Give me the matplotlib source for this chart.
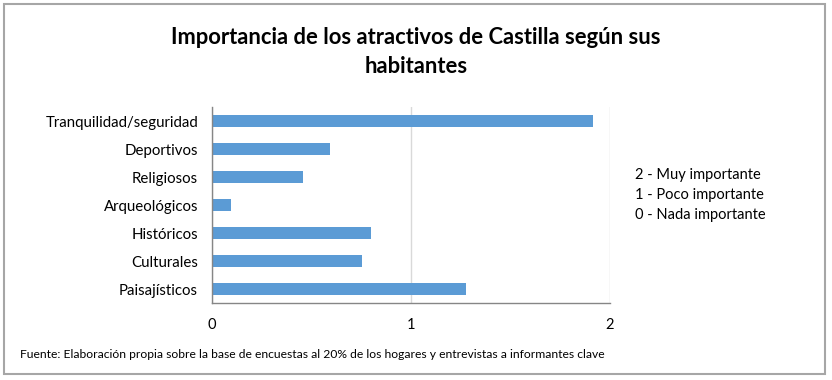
import matplotlib
matplotlib.use("Agg")
import matplotlib.pyplot as plt
from matplotlib.patches import Rectangle

categories = [
    "Tranquilidad/seguridad",
    "Deportivos",
    "Religiosos",
    "Arqueológicos",
    "Históricos",
    "Culturales",
    "Paisajísticos",
]
values = [1.915, 0.593, 0.456, 0.094, 0.797, 0.752, 1.275]
x_ticks = [0, 1, 2]
legend_lines = ["2 - Muy importante", "1 - Poco importante", "0 - Nada importante"]
title = "Importancia de los atractivos de Castilla según sus\nhabitantes"
source = ("Fuente: Elaboración propia sobre la base de encuestas al 20% de los "
          "hogares y entrevistas a informantes clave")

plt.rcParams["font.family"] = ["Lato", "DejaVu Sans"]

W, H = 832, 380
fig = plt.figure(figsize=(W / 100, H / 100), dpi=100)

# outer frame
fig.patches.append(Rectangle((4 / W, 1 - 374 / H), 821 / W, 370 / H, transform=fig.transFigure,
                             fill=False, edgecolor="#a6a6a6", linewidth=1.5))

ax = fig.add_axes([212 / W, 1 - 303 / H, 398 / W, 196 / H])
ypos = list(range(len(categories)))
ax.barh(ypos, values, height=0.4, color="#5B9BD5")
ax.set_ylim(len(categories) - 0.5, -0.5)
ax.set_xlim(0, 2)
ax.set_yticks(ypos)
ax.set_yticklabels(categories, fontsize=10.8, color="#000000")
ax.set_xticks(x_ticks)
ax.set_xticklabels([str(t) for t in x_ticks], fontsize=10.5)
ax.tick_params(length=0)
ax.tick_params(axis="y", pad=10)
ax.tick_params(axis="x", pad=11)
ax.grid(axis="x", color="#d9d9d9", linewidth=1)
ax.set_axisbelow(True)
for side in ["top", "right"]:
    ax.spines[side].set_visible(False)
for side in ["left", "bottom"]:
    ax.spines[side].set_color("#868686")
    ax.spines[side].set_linewidth(1)

fig.text(0.5, 1 - 52 / H, title, ha="center", va="center", fontsize=15.8,
         fontweight="bold", linespacing=1.45)

for i, line in enumerate(legend_lines):
    fig.text(635 / W, 1 - (175 + 20 * i) / H, line, ha="left", va="center", fontsize=10.5)

fig.text(20 / W, 1 - 354 / H, source, ha="left", va="center", fontsize=8.7)

fig.savefig("out.png", dpi=100)
